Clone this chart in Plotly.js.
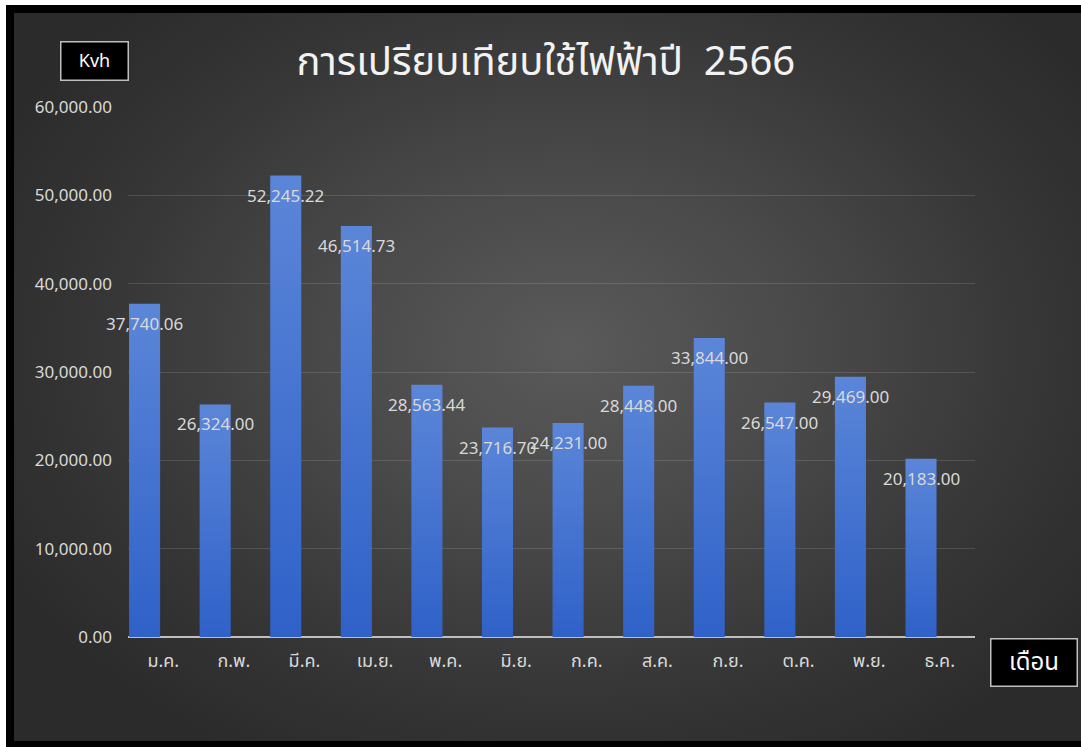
<!DOCTYPE html>
<html>
<head>
<meta charset="utf-8">
<script src="https://cdn.plot.ly/plotly-3.0.1.min.js"></script>
<style>
  html, body { margin: 0; padding: 0; background: #ffffff; width: 1081px; height: 747px; overflow: hidden; }
  #frame {
    position: absolute; left: 6px; top: 5px; width: 1067px; height: 728px;
    border-left: 8px solid #000; border-top: 8px solid #000; border-bottom: 6px solid #000;
    background: radial-gradient(ellipse 60% 65% at 52% 46%, #5a5a5a 0%, #484848 40%, #353535 75%, #2b2b2b 100%);
  }
  #chart { position: absolute; left: 0; top: 0; width: 1081px; height: 747px; }
</style>
</head>
<body>
<div id="frame"></div>
<div id="chart"></div>
<script>
const months = ['ม.ค.', 'ก.พ.', 'มี.ค.', 'เม.ย.', 'พ.ค.', 'มิ.ย.', 'ก.ค.', 'ส.ค.', 'ก.ย.', 'ต.ค.', 'พ.ย.', 'ธ.ค.'];
const usage = [37740.06, 26324.00, 52245.22, 46514.73, 28563.44, 23716.70, 24231.00, 28448.00, 33844.00, 26547.00, 29469.00, 20183.00];
const yTickVals = [0, 10000, 20000, 30000, 40000, 50000, 60000];
const yTickText = ['0.00', '10,000.00', '20,000.00', '30,000.00', '40,000.00', '50,000.00', '60,000.00'];
const titleText = 'การเปรียบเทียบใช้ไฟฟ้าปี  2566';
const yUnit = 'Kvh';
const xUnit = 'เดือน';

const FONT = '"Noto Sans Thai", "Leelawadee UI", Tahoma, "Noto Sans", "DejaVu Sans", sans-serif';
const fmt = v => v.toLocaleString('en-US', {minimumFractionDigits: 2, maximumFractionDigits: 2});

// layout geometry (style only)
const W = 1081, H = 747;
const M = { l: 128, r: 106, t: 107, b: 110 };
const slotPx = (W - M.l - M.r) / months.length;
const BAR_W = 0.44;        // bar width in category units
const BAR_OFF = -0.485;    // bar left edge relative to category centre (bars sit left, like a 2-series group)
const labelShift = (BAR_OFF + BAR_W / 2) * slotPx;

const trace = {
  type: 'bar',
  x: months,
  y: usage,
  width: BAR_W,
  offset: BAR_OFF,
  marker: { color: '#4774cf', line: { width: 0 } },
  hoverinfo: 'x+y'
};

const labelAnns = months.map((m, i) => ({
  x: m, y: usage[i], xref: 'x', yref: 'y',
  text: fmt(usage[i]), showarrow: false, yshift: -21, xshift: labelShift,
  font: { family: FONT, size: 17, color: '#d9d9d9' }
}));

const layout = {
  width: W, height: H,
  margin: M,
  paper_bgcolor: 'rgba(0,0,0,0)',
  plot_bgcolor: 'rgba(0,0,0,0)',
  showlegend: false,
  title: {
    text: titleText, x: 0.505, xanchor: 'center', y: 0.918, yanchor: 'middle',
    font: { family: FONT, size: 40, color: '#f2f2f2' }
  },
  xaxis: {
    type: 'category',
    range: [-0.5, months.length - 0.5],
    showgrid: false, zeroline: false, showline: false,
    ticks: '',
    tickfont: { family: FONT, size: 18, color: '#d9d9d9' },
    ticklabelstandoff: 11
  },
  yaxis: {
    range: [0, 60000],
    tickvals: yTickVals, ticktext: yTickText,
    showgrid: true, gridcolor: 'rgba(255,255,255,0.13)', gridwidth: 1,
    zeroline: true, zerolinecolor: '#bfbfbf', zerolinewidth: 1.5,
    showline: false, ticks: '',
    tickfont: { family: FONT, size: 17, color: '#d9d9d9' },
    ticklabelstandoff: 15
  },
  annotations: labelAnns.concat([
    {
      xref: 'paper', yref: 'paper', x: -0.040, y: 1.086, xanchor: 'center', yanchor: 'middle',
      text: yUnit, showarrow: false, width: 66, height: 37,
      bgcolor: '#000000', bordercolor: '#bfbfbf', borderwidth: 1.5, borderpad: 0,
      font: { family: FONT, size: 18, color: '#ffffff' }
    },
    {
      xref: 'paper', yref: 'paper', x: 1.0697, y: -0.048, xanchor: 'center', yanchor: 'middle',
      text: xUnit, showarrow: false, width: 85, height: 46,
      bgcolor: '#000000', bordercolor: '#bfbfbf', borderwidth: 1.5, borderpad: 0,
      font: { family: FONT, size: 24, color: '#ffffff' }
    }
  ])
};

Plotly.newPlot('chart', [trace], layout, { displayModeBar: false, staticPlot: true }).then(gd => {
  // vertical gradient on the bars, like the original
  const svg = gd.querySelector('svg.main-svg');
  const ns = 'http://www.w3.org/2000/svg';
  let defs = svg.querySelector('defs');
  if (!defs) { defs = document.createElementNS(ns, 'defs'); svg.insertBefore(defs, svg.firstChild); }
  const g = document.createElementNS(ns, 'linearGradient');
  g.setAttribute('id', 'barGrad');
  g.setAttribute('x1', '0'); g.setAttribute('y1', '0'); g.setAttribute('x2', '0'); g.setAttribute('y2', '1');
  [['0', '#5b86d8'], ['1', '#2f61c8']].forEach(([o, c]) => {
    const s = document.createElementNS(ns, 'stop');
    s.setAttribute('offset', o); s.setAttribute('stop-color', c);
    g.appendChild(s);
  });
  defs.appendChild(g);
  gd.querySelectorAll('.barlayer .point path').forEach(p => { p.style.fill = 'url(#barGrad)'; });
});
</script>
</body>
</html>
